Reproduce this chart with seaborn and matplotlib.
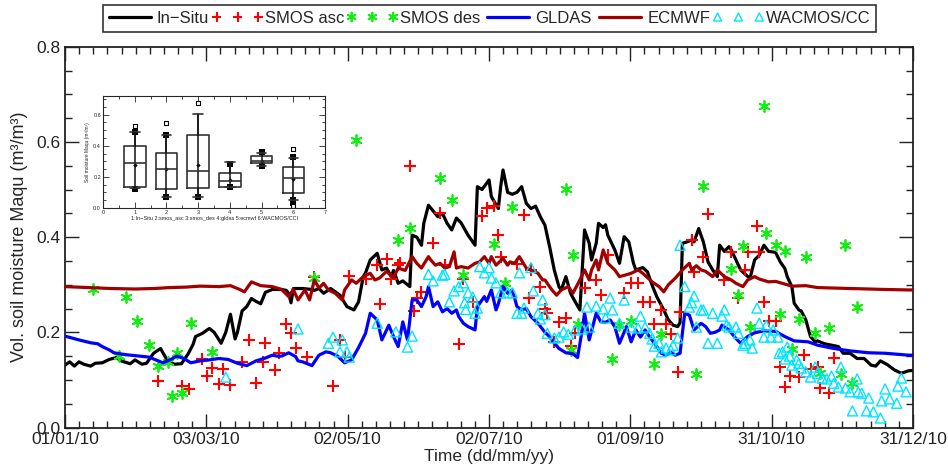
import numpy as np
import pandas as pd
import matplotlib
matplotlib.use("Agg")
import matplotlib.pyplot as plt
import seaborn as sns
from matplotlib.ticker import MultipleLocator, FixedLocator
from matplotlib.collections import PathCollection
from matplotlib.legend_handler import HandlerPathCollection

# ---------------- data (day of year 2010, soil moisture m3/m3) ----------------
insitu_day = [0, 2, 4, 6, 8, 11, 13, 16, 19, 22, 24, 26, 28, 30, 33, 35, 38, 41, 44, 47, 50, 53, 55, 56,
              59, 61, 62, 64, 66, 67, 69, 71, 73, 74, 76, 78, 80, 82, 84, 86, 89, 93, 95, 96, 97, 98,
              102, 106, 107, 109, 111, 114, 116, 118, 121, 124, 126, 128, 129, 131, 134, 136, 138, 140,
              141, 143, 145, 148, 149, 151, 153, 154, 156, 158, 160, 162, 164, 166, 168, 170, 173, 175,
              176, 177, 179, 182, 183, 186, 187, 188, 190, 192, 194, 196, 198, 200, 202, 204, 206, 208,
              210, 212, 213, 215, 217, 219, 221, 223, 225, 226, 228, 229, 231, 232, 233, 236, 238, 240,
              242, 244, 245, 248, 250, 252, 254, 257, 259, 261, 263, 264, 265, 267, 269, 270, 272, 274,
              276, 278, 280, 281, 283, 285, 286, 288, 290, 294, 296, 298, 300, 302, 305, 307, 309, 310,
              312, 313, 315, 316, 318, 320, 322, 323, 326, 329, 332, 334, 337, 340, 343, 346, 348, 350,
              353, 356, 359, 362, 364]
insitu_val = [0.131, 0.138, 0.129, 0.138, 0.133, 0.129, 0.135, 0.136, 0.143, 0.147, 0.140, 0.137, 0.134,
              0.142, 0.133, 0.135, 0.156, 0.166, 0.140, 0.133, 0.134, 0.156, 0.175, 0.191, 0.198, 0.205,
              0.208, 0.200, 0.185, 0.177, 0.200, 0.238, 0.186, 0.200, 0.245, 0.254, 0.271, 0.265, 0.260,
              0.284, 0.290, 0.290, 0.288, 0.282, 0.262, 0.292, 0.292, 0.290, 0.288, 0.292, 0.282, 0.292,
              0.285, 0.278, 0.254, 0.247, 0.264, 0.317, 0.325, 0.352, 0.366, 0.331, 0.335, 0.317, 0.330,
              0.303, 0.308, 0.296, 0.404, 0.400, 0.383, 0.429, 0.467, 0.455, 0.443, 0.450, 0.429, 0.415,
              0.440, 0.430, 0.404, 0.390, 0.383, 0.506, 0.500, 0.520, 0.485, 0.460, 0.506, 0.541, 0.494,
              0.490, 0.494, 0.506, 0.471, 0.460, 0.465, 0.443, 0.425, 0.380, 0.331, 0.296, 0.289, 0.317,
              0.282, 0.264, 0.247, 0.415, 0.387, 0.352, 0.387, 0.429, 0.420, 0.426, 0.404, 0.373, 0.345,
              0.401, 0.390, 0.345, 0.331, 0.336, 0.327, 0.299, 0.275, 0.247, 0.226, 0.215, 0.212, 0.220,
              0.387, 0.390, 0.394, 0.390, 0.418, 0.390, 0.348, 0.331, 0.317, 0.383, 0.370, 0.380, 0.373,
              0.352, 0.331, 0.313, 0.352, 0.362, 0.383, 0.370, 0.368, 0.348, 0.334, 0.317, 0.296, 0.261,
              0.247, 0.245, 0.226, 0.191, 0.180, 0.182, 0.176, 0.173, 0.170, 0.156, 0.156, 0.145, 0.145,
              0.131, 0.129, 0.140, 0.132, 0.121, 0.114, 0.119, 0.120]

asc_day = [40, 50, 53, 59, 61, 63, 66, 68, 71, 76, 79, 82, 85, 86, 90, 92, 95, 97, 99, 104, 107, 115,
           118, 120, 122, 129, 134, 135, 138, 140, 143, 144, 148, 150, 151, 153, 158, 161, 163, 169, 171,
           175, 179, 181, 184, 186, 187, 194, 197, 199, 200, 204, 206, 207, 210, 212, 215, 217, 219, 223,
           228, 230, 233, 240, 243, 246, 248, 251, 253, 256, 258, 260, 263, 264, 269, 270, 274, 276, 283,
           286, 289, 292, 293, 297, 298, 300, 302, 305, 307, 309, 311, 315, 317, 320, 323, 324, 328, 330]
asc_val = [0.097, 0.087, 0.080, 0.144, 0.108, 0.125, 0.092, 0.123, 0.089, 0.138, 0.184, 0.094, 0.138,
           0.177, 0.121, 0.156, 0.217, 0.199, 0.167, 0.148, 0.316, 0.087, 0.184, 0.148, 0.318, 0.312,
           0.342, 0.259, 0.354, 0.312, 0.342, 0.345, 0.549, 0.245, 0.272, 0.285, 0.388, 0.451, 0.342,
           0.175, 0.312, 0.264, 0.444, 0.461, 0.465, 0.404, 0.358, 0.343, 0.446, 0.272, 0.331, 0.295,
           0.249, 0.240, 0.179, 0.222, 0.230, 0.171, 0.198, 0.293, 0.310, 0.278, 0.362, 0.283, 0.304,
           0.304, 0.264, 0.264, 0.217, 0.247, 0.217, 0.196, 0.117, 0.242, 0.394, 0.327, 0.358, 0.448,
           0.310, 0.369, 0.272, 0.331, 0.369, 0.423, 0.369, 0.264, 0.224, 0.224, 0.128, 0.086, 0.109,
           0.107, 0.153, 0.122, 0.128, 0.083, 0.073, 0.146]

des_day = [12, 23, 26, 31, 36, 40, 44, 46, 48, 50, 54, 63, 107, 125, 143, 148, 161, 166, 171, 184, 189,
           192, 215, 217, 218, 220, 235, 238, 243, 253, 256, 271, 274, 286, 289, 291, 294, 300, 301, 305,
           307, 309, 312, 315, 318, 322, 324, 328, 333, 335, 338, 340]
des_val = [0.290, 0.150, 0.275, 0.223, 0.173, 0.130, 0.138, 0.066, 0.156, 0.072, 0.220, 0.158, 0.314,
           0.604, 0.394, 0.419, 0.524, 0.478, 0.320, 0.385, 0.304, 0.463, 0.501, 0.163, 0.362, 0.217,
           0.144, 0.215, 0.224, 0.133, 0.196, 0.112, 0.507, 0.333, 0.278, 0.381, 0.211, 0.675, 0.408,
           0.383, 0.238, 0.370, 0.165, 0.228, 0.358, 0.199, 0.114, 0.209, 0.112, 0.383, 0.093, 0.253]

gldas_day = [0, 6, 11, 14, 16, 19, 21, 26, 32, 36, 39, 42, 45, 48, 51, 54, 58, 62, 66, 70, 74, 78, 82,
             86, 89, 91, 93, 96, 99, 100, 102, 106, 109, 112, 114, 117, 120, 123, 126, 129, 131, 134, 136,
             139, 141, 143, 145, 147, 149, 151, 153, 155, 156, 158, 160, 162, 164, 166, 168, 169, 171,
             173, 176, 177, 180, 181, 183, 185, 186, 188, 190, 192, 194, 196, 198, 200, 203, 206, 208,
             209, 212, 215, 218, 220, 222, 223, 225, 228, 230, 232, 234, 236, 238, 241, 243, 245, 247,
             249, 251, 253, 256, 258, 260, 262, 264, 266, 268, 270, 273, 275, 277, 279, 281, 282, 285,
             288, 290, 293, 296, 300, 305, 309, 313, 319, 323, 330, 337, 345, 352, 362, 364]
gldas_val = [0.192, 0.184, 0.178, 0.176, 0.170, 0.163, 0.157, 0.153, 0.150, 0.148, 0.142, 0.136, 0.142,
             0.150, 0.145, 0.136, 0.140, 0.142, 0.145, 0.143, 0.135, 0.130, 0.140, 0.146, 0.152, 0.150,
             0.150, 0.157, 0.149, 0.140, 0.138, 0.130, 0.152, 0.159, 0.157, 0.150, 0.136, 0.142, 0.168,
             0.198, 0.240, 0.226, 0.184, 0.215, 0.191, 0.170, 0.222, 0.184, 0.268, 0.268, 0.254, 0.275,
             0.296, 0.254, 0.264, 0.243, 0.250, 0.240, 0.247, 0.233, 0.219, 0.212, 0.205, 0.254, 0.275,
             0.265, 0.289, 0.247, 0.260, 0.296, 0.282, 0.289, 0.254, 0.247, 0.250, 0.233, 0.219, 0.200,
             0.191, 0.184, 0.166, 0.157, 0.155, 0.147, 0.205, 0.240, 0.184, 0.240, 0.222, 0.221, 0.226,
             0.212, 0.177, 0.212, 0.180, 0.205, 0.190, 0.205, 0.190, 0.177, 0.156, 0.152, 0.158, 0.152,
             0.156, 0.240, 0.236, 0.205, 0.219, 0.212, 0.198, 0.200, 0.205, 0.215, 0.205, 0.187, 0.177,
             0.191, 0.199, 0.203, 0.202, 0.191, 0.182, 0.180, 0.173, 0.166, 0.161, 0.157, 0.156, 0.152,
             0.152]

ecmwf_day = [0, 10, 20, 30, 38, 45, 52, 58, 66, 71, 75, 77, 80, 84, 89, 93, 96, 98, 100, 103, 105, 107,
             109, 111, 113, 116, 119, 120, 123, 125, 128, 131, 133, 135, 138, 141, 143, 146, 149, 151,
             153, 156, 157, 159, 161, 163, 165, 167, 168, 170, 173, 176, 178, 180, 182, 183, 185, 188,
             190, 191, 193, 195, 198, 200, 203, 205, 206, 208, 209, 211, 213, 216, 218, 221, 223, 225,
             226, 228, 229, 231, 233, 236, 238, 241, 243, 246, 248, 252, 255, 257, 259, 262, 265, 268,
             269, 271, 273, 275, 278, 280, 283, 286, 288, 291, 293, 296, 298, 302, 305, 312, 318, 323,
             330, 337, 345, 352, 362, 364]
ecmwf_val = [0.296, 0.294, 0.292, 0.291, 0.292, 0.294, 0.295, 0.297, 0.296, 0.298, 0.290, 0.285, 0.306,
             0.298, 0.296, 0.290, 0.275, 0.290, 0.268, 0.289, 0.268, 0.310, 0.293, 0.303, 0.289, 0.282,
             0.268, 0.289, 0.310, 0.303, 0.317, 0.324, 0.310, 0.314, 0.328, 0.315, 0.335, 0.330, 0.359,
             0.345, 0.335, 0.359, 0.352, 0.341, 0.345, 0.335, 0.338, 0.369, 0.335, 0.338, 0.335, 0.345,
             0.348, 0.359, 0.345, 0.359, 0.341, 0.355, 0.341, 0.348, 0.345, 0.359, 0.335, 0.331, 0.324,
             0.310, 0.310, 0.296, 0.289, 0.278, 0.289, 0.296, 0.282, 0.310, 0.331, 0.310, 0.331, 0.352,
             0.331, 0.373, 0.345, 0.331, 0.317, 0.321, 0.324, 0.331, 0.324, 0.306, 0.296, 0.285, 0.300,
             0.314, 0.331, 0.345, 0.331, 0.340, 0.331, 0.328, 0.317, 0.331, 0.317, 0.310, 0.303, 0.296,
             0.310, 0.317, 0.312, 0.306, 0.307, 0.297, 0.298, 0.294, 0.293, 0.292, 0.291, 0.290, 0.289,
             0.289]

cci_day = [69, 100, 113, 115, 118, 119, 121, 122, 134, 142, 147, 149, 156, 158, 162, 163, 165, 167, 169,
           171, 171.5, 172, 173, 175, 176, 177, 178, 180, 182, 183, 185, 187, 190, 192, 194, 195, 196,
           197, 200, 201, 203, 204, 205, 206, 207, 210, 212, 214, 216, 219, 222, 224, 225, 228, 231, 232,
           234, 235, 238, 240, 243, 246, 247, 249, 251, 252, 253, 255, 256, 258, 260, 261, 263, 264, 266,
           268, 269, 270, 271, 273, 274, 276, 278, 280, 282, 283, 284, 285, 288, 289, 291, 292, 294, 295,
           297, 298, 300, 301, 303, 304, 306, 306.5, 308, 309, 310, 311, 312, 314, 315, 316, 318, 320,
           322, 323, 325, 327, 329, 330, 332, 333, 335, 337, 338, 340, 340.5, 342, 344, 345, 347, 350,
           350.5, 352, 354, 357, 357.5, 359, 361]
cci_val = [0.106, 0.207, 0.177, 0.190, 0.159, 0.184, 0.159, 0.148, 0.219, 0.201, 0.169, 0.192, 0.322,
           0.308, 0.320, 0.322, 0.264, 0.287, 0.296, 0.304, 0.262, 0.248, 0.283, 0.274, 0.240, 0.251,
           0.338, 0.325, 0.336, 0.314, 0.304, 0.283, 0.283, 0.283, 0.240, 0.325, 0.240, 0.251, 0.336,
           0.287, 0.240, 0.228, 0.268, 0.237, 0.198, 0.188, 0.190, 0.201, 0.196, 0.205, 0.207, 0.253,
           0.211, 0.255, 0.249, 0.230, 0.272, 0.247, 0.219, 0.268, 0.211, 0.209, 0.234, 0.211, 0.198,
           0.186, 0.171, 0.177, 0.159, 0.167, 0.163, 0.173, 0.188, 0.383, 0.296, 0.253, 0.262, 0.276,
           0.211, 0.247, 0.247, 0.177, 0.240, 0.177, 0.234, 0.247, 0.215, 0.211, 0.211, 0.198, 0.173,
           0.177, 0.184, 0.167, 0.251, 0.219, 0.190, 0.215, 0.190, 0.205, 0.190, 0.156, 0.159, 0.144,
           0.169, 0.150, 0.131, 0.142, 0.135, 0.125, 0.117, 0.106, 0.127, 0.114, 0.104, 0.102, 0.108,
           0.093, 0.085, 0.127, 0.083, 0.075, 0.035, 0.102, 0.075, 0.072, 0.035, 0.062, 0.033, 0.020,
           0.056, 0.081, 0.060, 0.051, 0.087, 0.104, 0.075]

xtick_labels = ["01/01/10", "03/03/10", "02/05/10", "02/07/10", "01/09/10", "31/10/10", "31/12/10"]
ytick_labels = ["0.0", "0.2", "0.4", "0.6", "0.8"]

# inset box-plot statistics
box_pos = [1, 2, 3, 4, 5, 6]
box_q1 = [0.138, 0.121, 0.128, 0.138, 0.287, 0.096]
box_med = [0.287, 0.249, 0.238, 0.174, 0.302, 0.196]
box_q3 = [0.398, 0.355, 0.468, 0.223, 0.336, 0.262]
box_mean = [0.277, 0.249, 0.279, 0.181, 0.304, 0.187]
box_lo = [0.128, 0.074, 0.068, 0.135, 0.272, 0.053]
box_hi = [0.490, 0.468, 0.602, 0.298, 0.351, 0.319]
fill_sq_x = [1, 1, 2, 2, 3, 4, 4, 5, 5, 6, 6, 6]
fill_sq_y = [0.490, 0.122, 0.468, 0.074, 0.068, 0.283, 0.132, 0.362, 0.272, 0.330, 0.053, 0.032]
open_sq_x = [1, 2, 3, 6, 6]
open_sq_y = [0.530, 0.549, 0.677, 0.381, 0.016]
inset_xlabel = "1:In\u2212Situ 2:smos_asc 3:smos_des 4:gldas 5:ecmwf 6:WACMOS/CCI"

# ---------------- figure ----------------
sns.set_style("ticks")
plt.rcParams["font.family"] = ["Liberation Sans", "DejaVu Sans"]
plt.rcParams["axes.unicode_minus"] = True

fig = plt.figure(figsize=(9.48, 4.70), dpi=100)
ax = fig.add_axes([0.0686, 0.0904, 0.8945, 0.8102])

sns.lineplot(x=insitu_day, y=insitu_val, ax=ax, color="black", lw=2.3, label="In\u2212Situ",
             estimator=None, sort=False, zorder=2)
sns.scatterplot(x=asc_day, y=asc_val, ax=ax, marker="+", color="#ff0000", s=70, linewidth=1.5,
                label="SMOS asc", zorder=3)
sns.scatterplot(x=des_day, y=des_val, ax=ax, marker=(6, 2, 0), color="#11ee11", s=62, linewidth=1.3,
                label="SMOS des", zorder=3)
sns.lineplot(x=gldas_day, y=gldas_val, ax=ax, color="#0000ff", lw=2.3, label="GLDAS",
             estimator=None, sort=False, zorder=4)
sns.lineplot(x=ecmwf_day, y=ecmwf_val, ax=ax, color="#a00000", lw=2.3, label="ECMWF",
             estimator=None, sort=False, zorder=5)
sns.scatterplot(x=cci_day, y=cci_val, ax=ax, marker="^", facecolor="none", edgecolor="#00e5ff",
                s=52, linewidth=1.0, label="WACMOS/CC", zorder=6)

ax.set_xlim(0, 364)
ax.set_ylim(0, 0.8)
ax.xaxis.set_major_locator(FixedLocator(np.linspace(0, 364, 7)))
ax.xaxis.set_minor_locator(FixedLocator(np.linspace(0, 364, 61)))
ax.set_xticklabels(xtick_labels)
ax.yaxis.set_major_locator(FixedLocator([0, 0.2, 0.4, 0.6, 0.8]))
ax.yaxis.set_minor_locator(MultipleLocator(0.05))
ax.set_yticklabels(ytick_labels)
ax.tick_params(which="both", direction="in", top=True, right=True, labelsize=12.5, width=1.0,
               colors="#222222")
ax.tick_params(which="major", length=10)
ax.tick_params(which="minor", length=5)
for sp in ax.spines.values():
    sp.set_linewidth(1.3)
    sp.set_color("#222222")
ax.set_xlabel("Time (dd/mm/yy)", fontsize=12.5, labelpad=1)
ax.set_ylabel("Vol. soil moisture Maqu (m\u00b3/m\u00b3)", fontsize=13, labelpad=6)

handles, labels = ax.get_legend_handles_labels()
if ax.get_legend() is not None:
    ax.get_legend().remove()
leg = fig.legend(handles, labels, loc="upper left", bbox_to_anchor=(103 / 948, 1 - 5 / 470), ncol=6,
                 frameon=True, fancybox=False, edgecolor="black", fontsize=12,
                 handlelength=2.5, handletextpad=0.38, columnspacing=0.45, borderpad=0.35,
                 borderaxespad=0, markerscale=0.8,
                 handler_map={PathCollection: HandlerPathCollection(marker_pad=0, numpoints=3,
                                                                     yoffsets=[0.5, 0.5, 0.5])})
leg.get_frame().set_linewidth(1.2)

# ---------------- inset ----------------
ins = fig.add_axes([0.1087, 0.5574, 0.2342, 0.2383])
stats = [dict(med=m, q1=a, q3=b, whislo=lo, whishi=hi, mean=mn, fliers=[])
         for m, a, b, lo, hi, mn in zip(box_med, box_q1, box_q3, box_lo, box_hi, box_mean)]
ins.bxp(stats, positions=box_pos, widths=0.68, showmeans=False, showfliers=False,
        boxprops=dict(color="#333333", lw=1.2), medianprops=dict(color="#333333", lw=1.2),
        whiskerprops=dict(color="#333333", lw=1.2), capprops=dict(color="#333333", lw=1.2),
        capwidths=0.3, manage_ticks=False)
ins.vlines(box_pos, box_lo, box_hi, color="#111111", lw=1.1)
sns.scatterplot(x=box_pos, y=box_mean, ax=ins, marker="D", color="black", s=5, linewidth=0)
sns.scatterplot(x=fill_sq_x, y=fill_sq_y, ax=ins, marker="s", color="black", s=14, linewidth=0)
sns.scatterplot(x=open_sq_x, y=open_sq_y, ax=ins, marker="s", facecolor="white", edgecolor="black",
                s=10, linewidth=0.8)
ins.set_xlim(0, 7)
ins.set_ylim(0, 0.72)
ins.xaxis.set_major_locator(FixedLocator(range(8)))
ins.xaxis.set_minor_locator(MultipleLocator(0.5))
ins.yaxis.set_major_locator(FixedLocator([0, 0.2, 0.4, 0.6]))
ins.yaxis.set_minor_locator(MultipleLocator(0.05))
ins.set_yticklabels(["0.0", "0.2", "0.4", "0.6"])
ins.tick_params(which="both", direction="in", top=True, right=True, labelsize=4, width=0.6, pad=1.5)
ins.tick_params(which="major", length=4)
ins.tick_params(which="minor", length=2)
for sp in ins.spines.values():
    sp.set_linewidth(0.8)
ins.set_xlabel(inset_xlabel, fontsize=4, labelpad=0.5)
ins.set_ylabel("Soil moisture Maqu (m\u00b3/m\u00b3)", fontsize=3.5, labelpad=2)

fig.savefig("out.png", dpi=100)
